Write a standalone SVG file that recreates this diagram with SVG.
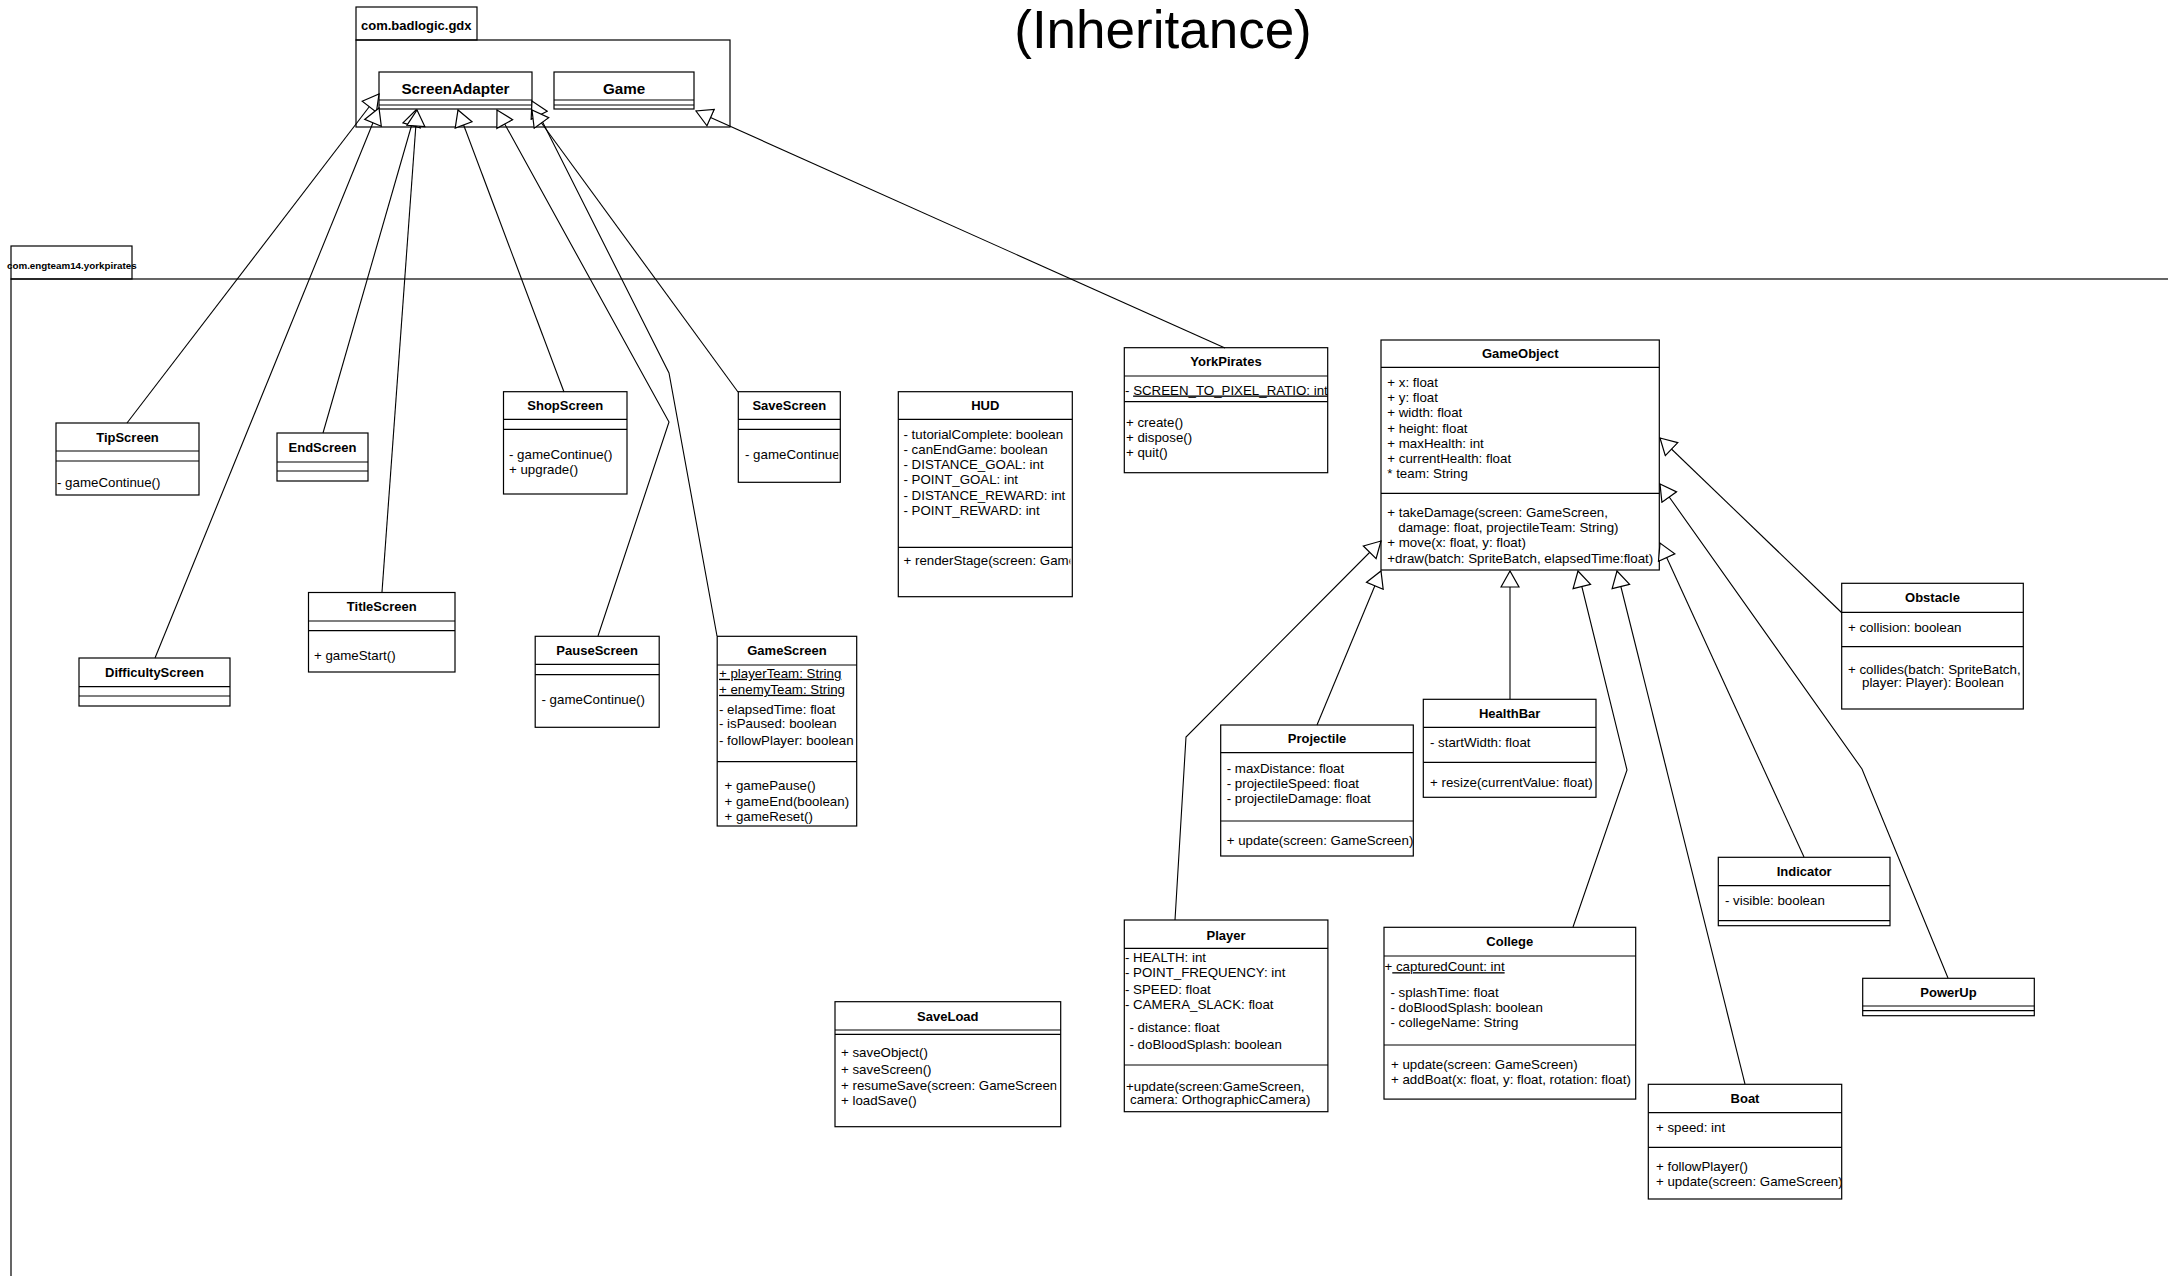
<svg xmlns="http://www.w3.org/2000/svg" width="2168" height="1276" viewBox="0 0 2168 1276">
  <style>
    .box{fill:#fff;stroke:#000;stroke-width:1.2}
    .pkg{fill:none;stroke:#000;stroke-width:1.2}
    .div{fill:none;stroke:#000;stroke-width:1.2}
    .t{font-family:"Liberation Sans",Arial,Helvetica,sans-serif;font-size:13px;font-weight:bold;text-anchor:middle;fill:#000}
    .big{font-size:15.2px}
    .a{font-family:"Liberation Sans",Arial,Helvetica,sans-serif;font-size:13.3px;fill:#000}
    .u{text-decoration:underline}
    .edge{fill:none;stroke:#000;stroke-width:1.1;marker-end:url(#gen)}
  </style>
  <defs>
    <!-- hollow triangle for generalization -->
    <marker id="gen" viewBox="0 0 18 20" refX="17" refY="10" markerWidth="18" markerHeight="20" orient="auto" markerUnits="userSpaceOnUse">
      <path d="M1,1 L17,10 L1,19 Z" fill="#fff" stroke="#000" stroke-width="1.2"/>
    </marker>
    <clipPath id="cSave"><rect x="738.3" y="391.7" width="100" height="90.6"/></clipPath>
    <clipPath id="cHud"><rect x="898.3" y="391.7" width="172" height="205"/></clipPath>
    <clipPath id="cYork"><rect x="1124.3" y="347.7" width="203.4" height="125"/></clipPath>
    <clipPath id="cProj"><rect x="1220.7" y="725" width="192.6" height="131"/></clipPath>
    <clipPath id="cBoat"><rect x="1648.3" y="1084.3" width="193.4" height="114.7"/></clipPath>
    <clipPath id="cLoad"><rect x="835" y="1001.7" width="221.5" height="125"/></clipPath>
  </defs>

  <rect x="0" y="0" width="2168" height="1276" fill="#fff"/>

  <text x="1163" y="48" font-family="'Liberation Sans',Arial,Helvetica,sans-serif" font-size="53" text-anchor="middle" fill="#000">(Inheritance)</text>

  <!-- packages -->
  <g id="pkg-gdx">
    <rect class="pkg" x="356" y="7" width="121" height="33"/>
    <rect class="pkg" x="356" y="40" width="374" height="87"/>
    <text class="t" x="361" y="29.5" style="text-anchor:start">com.badlogic.gdx</text>
  </g>
  <g id="pkg-yorkpirates">
    <rect class="pkg" x="11" y="246" width="121" height="33"/>
    <rect class="pkg" x="11" y="279" width="2300" height="1100"/>
    <text class="t" x="7" y="268.5" style="text-anchor:start;font-size:9.8px">com.engteam14.yorkpirates</text>
  </g>

  <!-- classes -->
  <g id="screenadapter">
    <rect class="box" x="379" y="72" width="153" height="37"/>
    <path class="div" d="M379,100H532M379,105H532"/>
    <text class="t big" x="455.5" y="93.6">ScreenAdapter</text>
  </g>
  <g id="game">
    <rect class="box" x="554" y="72" width="140" height="37"/>
    <path class="div" d="M554,100H694M554,105H694"/>
    <text class="t big" x="624" y="93.6">Game</text>
  </g>

  <g id="tipscreen">
    <rect class="box" x="56" y="423" width="143" height="72"/>
    <path class="div" d="M56,451H199M56,461H199"/>
    <text class="t" x="127.5" y="441.6">TipScreen</text>
    <text class="a" x="57" y="486.5">- gameContinue()</text>
  </g>
  <g id="endscreen">
    <rect class="box" x="277" y="433" width="91" height="48"/>
    <path class="div" d="M277,462H368M277,471H368"/>
    <text class="t" x="322.5" y="452.1">EndScreen</text>
  </g>
  <g id="difficultyscreen">
    <rect class="box" x="79" y="658" width="151" height="48"/>
    <path class="div" d="M79,686.7H230M79,696H230"/>
    <text class="t" x="154.5" y="676.9">DifficultyScreen</text>
  </g>
  <g id="titlescreen">
    <rect class="box" x="308.5" y="592.5" width="146.5" height="79.5"/>
    <path class="div" d="M308.5,621H455M308.5,630.7H455"/>
    <text class="t" x="381.75" y="611.4">TitleScreen</text>
    <text class="a" x="314" y="659.5">+ gameStart()</text>
  </g>
  <g id="shopscreen">
    <rect class="box" x="503.5" y="391.7" width="123.5" height="102.3"/>
    <path class="div" d="M503.5,419.3H627M503.5,429.3H627"/>
    <text class="t" x="565.25" y="410.1">ShopScreen</text>
    <text class="a" x="509" y="458.5">- gameContinue()</text>
    <text class="a" x="509" y="474">+ upgrade()</text>
  </g>
  <g id="savescreen">
    <rect class="box" x="738.3" y="391.7" width="102" height="90.6"/>
    <path class="div" d="M738.3,419.3H840.3M738.3,429.3H840.3"/>
    <text class="t" x="789.3" y="410.1">SaveScreen</text>
    <text class="a" x="745" y="458.5" clip-path="url(#cSave)">- gameContinue()</text>
  </g>
  <g id="pausescreen">
    <rect class="box" x="535.2" y="636.3" width="124" height="91"/>
    <path class="div" d="M535.2,664.3H659.2M535.2,674.7H659.2"/>
    <text class="t" x="597.2" y="654.9">PauseScreen</text>
    <text class="a" x="541.5" y="703.5">- gameContinue()</text>
  </g>
  <g id="gamescreen">
    <rect class="box" x="717.2" y="636.3" width="139.5" height="189.7"/>
    <path class="div" d="M717.2,665H856.7M717.2,761.7H856.7"/>
    <text class="t" x="787" y="655.2">GameScreen</text>
    <text class="a u" x="719" y="677.8">+ playerTeam: String</text>
    <text class="a u" x="719" y="693.8">+ enemyTeam: String</text>
    <text class="a" x="719" y="713.5">- elapsedTime: float</text>
    <text class="a" x="719" y="728.2">- isPaused: boolean</text>
    <text class="a" x="719" y="744.5">- followPlayer: boolean</text>
    <text class="a" x="724.5" y="790.2">+ gamePause()</text>
    <text class="a" x="724.5" y="806.2">+ gameEnd(boolean)</text>
    <text class="a" x="724.5" y="820.5">+ gameReset()</text>
  </g>
  <g id="hud">
    <rect class="box" x="898.3" y="391.7" width="174" height="205"/>
    <path class="div" d="M898.3,419.3H1072.3M898.3,547.3H1072.3"/>
    <text class="t" x="985.3" y="410.1">HUD</text>
    <text class="a" x="903.5" y="438.5">- tutorialComplete: boolean</text>
    <text class="a" x="903.5" y="453.8">- canEndGame: boolean</text>
    <text class="a" x="903.5" y="469.1">- DISTANCE_GOAL: int</text>
    <text class="a" x="903.5" y="484.4">- POINT_GOAL: int</text>
    <text class="a" x="903.5" y="499.7">- DISTANCE_REWARD: int</text>
    <text class="a" x="903.5" y="515">- POINT_REWARD: int</text>
    <text class="a" x="903.5" y="565.2" clip-path="url(#cHud)">+ renderStage(screen: GameScreen)</text>
  </g>
  <g id="yorkpirates">
    <rect class="box" x="1124.3" y="347.7" width="203.4" height="125"/>
    <path class="div" d="M1124.3,376H1327.7M1124.3,401.7H1327.7"/>
    <text class="t" x="1226" y="366.4">YorkPirates</text>
    <text class="a" x="1125" y="394.5" clip-path="url(#cYork)">- <tspan class="u">SCREEN_TO_PIXEL_RATIO: int</tspan></text>
    <text class="a" x="1126" y="427.2">+ create()</text>
    <text class="a" x="1126" y="442.2">+ dispose()</text>
    <text class="a" x="1126" y="457.2">+ quit()</text>
  </g>
  <g id="saveload">
    <rect class="box" x="835" y="1001.7" width="225.7" height="125"/>
    <path class="div" d="M835,1030H1060.7M835,1034.3H1060.7"/>
    <text class="t" x="947.8" y="1020.5">SaveLoad</text>
    <text class="a" x="841" y="1056.8">+ saveObject()</text>
    <text class="a" x="841" y="1073.8">+ saveScreen()</text>
    <text class="a" x="841" y="1089.5" clip-path="url(#cLoad)">+ resumeSave(screen: GameScreen)</text>
    <text class="a" x="841" y="1105.2">+ loadSave()</text>
  </g>

  <g id="gameobject">
    <rect class="box" x="1381" y="340" width="278.3" height="230"/>
    <path class="div" d="M1381,367.3H1659.3M1381,493.3H1659.3"/>
    <text class="t" x="1520.2" y="358.3">GameObject</text>
    <text class="a" x="1387.3" y="387">+ x: float</text>
    <text class="a" x="1387.3" y="402.2">+ y: float</text>
    <text class="a" x="1387.3" y="417.4">+ width: float</text>
    <text class="a" x="1387.3" y="432.6">+ height: float</text>
    <text class="a" x="1387.3" y="447.8">+ maxHealth: int</text>
    <text class="a" x="1387.3" y="463">+ currentHealth: float</text>
    <text class="a" x="1387.3" y="478.2">* team: String</text>
    <text class="a" x="1387.3" y="517">+ takeDamage(screen: GameScreen,</text>
    <text class="a" x="1398.3" y="532.1">damage: float, projectileTeam: String)</text>
    <text class="a" x="1387.3" y="547.2">+ move(x: float, y: float)</text>
    <text class="a" x="1387.3" y="562.5">+draw(batch: SpriteBatch, elapsedTime:float)</text>
  </g>
  <g id="obstacle">
    <rect class="box" x="1841.7" y="583.3" width="181.6" height="125.7"/>
    <path class="div" d="M1841.7,612.3H2023.3M1841.7,646.7H2023.3"/>
    <text class="t" x="1932.5" y="602.4">Obstacle</text>
    <text class="a" x="1848" y="631.8">+ collision: boolean</text>
    <text class="a" x="1848" y="673.5">+ collides(batch: SpriteBatch,</text>
    <text class="a" x="1862" y="686.8">player: Player): Boolean</text>
  </g>
  <g id="projectile">
    <rect class="box" x="1220.7" y="725" width="192.6" height="131"/>
    <path class="div" d="M1220.7,752.7H1413.3M1220.7,821H1413.3"/>
    <text class="t" x="1317" y="743.4">Projectile</text>
    <text class="a" x="1226.7" y="772.8">- maxDistance: float</text>
    <text class="a" x="1226.7" y="787.8">- projectileSpeed: float</text>
    <text class="a" x="1226.7" y="802.8">- projectileDamage: float</text>
    <text class="a" x="1226.7" y="844.5" clip-path="url(#cProj)">+ update(screen: GameScreen)</text>
  </g>
  <g id="healthbar">
    <rect class="box" x="1423.3" y="699.3" width="172.7" height="98"/>
    <path class="div" d="M1423.3,727.3H1596M1423.3,762.3H1596"/>
    <text class="t" x="1509.7" y="717.9">HealthBar</text>
    <text class="a" x="1430" y="746.8">- startWidth: float</text>
    <text class="a" x="1430" y="787.2">+ resize(currentValue: float)</text>
  </g>
  <g id="indicator">
    <rect class="box" x="1718.3" y="857.3" width="171.7" height="68.4"/>
    <path class="div" d="M1718.3,885.7H1890M1718.3,920.7H1890"/>
    <text class="t" x="1804.2" y="876.1">Indicator</text>
    <text class="a" x="1725" y="904.5">- visible: boolean</text>
  </g>
  <g id="powerup">
    <rect class="box" x="1862.7" y="978.3" width="171.6" height="37.4"/>
    <path class="div" d="M1862.7,1006H2034.3M1862.7,1010.7H2034.3"/>
    <text class="t" x="1948.5" y="996.8">PowerUp</text>
  </g>
  <g id="boat">
    <rect class="box" x="1648.3" y="1084.3" width="193.4" height="114.7"/>
    <path class="div" d="M1648.3,1112.7H1841.7M1648.3,1147.3H1841.7"/>
    <text class="t" x="1745" y="1103.1">Boat</text>
    <text class="a" x="1656" y="1131.8">+ speed: int</text>
    <text class="a" x="1656" y="1171.2">+ followPlayer()</text>
    <text class="a" x="1656" y="1186.2" clip-path="url(#cBoat)">+ update(screen: GameScreen)</text>
  </g>
  <g id="player">
    <rect class="box" x="1124.3" y="920" width="203.6" height="191.7"/>
    <path class="div" d="M1124.3,948.3H1327.9M1124.3,1065H1327.9"/>
    <text class="t" x="1226" y="939.5">Player</text>
    <text class="a" x="1125" y="961.8">- HEALTH: int</text>
    <text class="a" x="1125" y="976.8">- POINT_FREQUENCY: int</text>
    <text class="a" x="1125" y="993.5">- SPEED: float</text>
    <text class="a" x="1125" y="1009.2">- CAMERA_SLACK: float</text>
    <text class="a" x="1129.5" y="1032.2">- distance: float</text>
    <text class="a" x="1129.5" y="1048.5">- doBloodSplash: boolean</text>
    <text class="a" x="1126" y="1090.5">+update(screen:GameScreen,</text>
    <text class="a" x="1130" y="1104">camera: OrthographicCamera)</text>
  </g>
  <g id="college">
    <rect class="box" x="1384" y="927.3" width="251.7" height="171.8"/>
    <path class="div" d="M1384,956H1635.7M1384,1045H1635.7"/>
    <text class="t" x="1509.8" y="946.3">College</text>
    <text class="a" x="1384.5" y="971.2">+<tspan class="u"> capturedCount: int</tspan></text>
    <text class="a" x="1390.5" y="996.8">- splashTime: float</text>
    <text class="a" x="1390.5" y="1011.8">- doBloodSplash: boolean</text>
    <text class="a" x="1390.5" y="1027.2">- collegeName: String</text>
    <text class="a" x="1391" y="1068.5">+ update(screen: GameScreen)</text>
    <text class="a" x="1391" y="1083.8">+ addBoat(x: float, y: float, rotation: float)</text>
  </g>

  <!-- generalization connectors -->
  <g id="connectors">
    <path class="edge" d="M127,423 L379,94"/>
    <path class="edge" d="M155,658 L379,108"/>
    <path class="edge" d="M323,433 L416,110"/>
    <path class="edge" d="M382,592 L417,110"/>
    <path class="edge" d="M564,392 L458,110"/>
    <path class="edge" d="M598,636 L669,422 L497,110"/>
    <path class="edge" d="M717,636 L669,373 L532,101"/>
    <path class="edge" d="M738,392 L532,110"/>
    <path class="edge" d="M1225,348 L696,111"/>
    <path class="edge" d="M1175,920 L1186,737 L1381,541"/>
    <path class="edge" d="M1317,725 L1381,571"/>
    <path class="edge" d="M1510,699 L1510,571"/>
    <path class="edge" d="M1573,927 L1627,770 L1578,571"/>
    <path class="edge" d="M1745,1084 L1617,571"/>
    <path class="edge" d="M1804,857 L1660,543"/>
    <path class="edge" d="M1948,978 L1862,769 L1660,484"/>
    <path class="edge" d="M1842,613 L1660,438"/>
  </g>
</svg>
